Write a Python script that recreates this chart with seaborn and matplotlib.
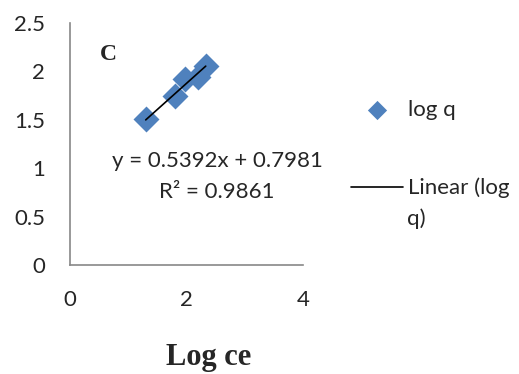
import numpy as np
import pandas as pd
import matplotlib
matplotlib.use("Agg")
import matplotlib.pyplot as plt
import seaborn as sns

log_ce = [1.30, 1.80, 1.97, 2.20, 2.33]
log_q = [1.51, 1.75, 1.92, 1.94, 2.06]
slope = 0.5392
intercept = 0.7981
x_ticks = [0, 2, 4]
y_ticks = [0, 0.5, 1, 1.5, 2, 2.5]
y_tick_labels = ["0", "0.5", "1", "1.5", "2", "2.5"]

sns.set_style("white")
plt.rcParams['font.family'] = ['Lato', 'DejaVu Sans']

FS = 16

fig = plt.figure(figsize=(5.19, 3.74), dpi=100)
ax = fig.add_axes([70/519, 1-265/374, 233/519, 242/374])

df = pd.DataFrame({"x": log_ce, "y": log_q})
fit_x = np.array([min(log_ce), max(log_ce)])
fit_df = pd.DataFrame({"x": fit_x, "y": slope * fit_x + intercept})

sns.scatterplot(data=df, x="x", y="y", marker="D", s=175, color="#4F81BD",
                edgecolor="#4F81BD", linewidth=0, ax=ax, label="log q", zorder=2)
sns.lineplot(data=fit_df, x="x", y="y", color="black", linewidth=1.2, ax=ax,
             label="Linear (log", zorder=3)

ax.set_xlim(0, 4)
ax.set_ylim(0, 2.5)
ax.set_xticks(x_ticks)
ax.set_yticks(y_ticks)
ax.set_xticklabels([str(v) for v in x_ticks])
ax.set_yticklabels(y_tick_labels)
ax.tick_params(axis="both", length=0, labelsize=FS)
ax.tick_params(axis="x", pad=18)
ax.tick_params(axis="y", pad=18)
for side in ["top", "right"]:
    ax.spines[side].set_visible(False)
for side in ["left", "bottom"]:
    ax.spines[side].set_color("#888888")
    ax.spines[side].set_linewidth(1.2)
ax.set_xlabel("")
ax.set_ylabel("")

fig.text(217/519, 1-161/374, "y = 0.5392x + 0.7981", ha="center", va="center", fontsize=FS)
fig.text(217/519, 1-192/374, "R² = 0.9861", ha="center", va="center", fontsize=FS)
fig.text(108/519, 1-54/374, "C", ha="center", va="center",
         fontsize=17, fontweight="bold", family="Liberation Serif")
fig.text(209/519, 1-358/374, "Log ce", ha="center", va="center", fontsize=22,
         fontweight="bold", family="Liberation Serif")

leg = ax.legend(loc="upper left", bbox_to_anchor=(351/519, 1-100/374),
                bbox_transform=fig.transFigure, frameon=False, fontsize=FS,
                labelspacing=2.6, handlelength=2.35, handletextpad=0.2,
                borderpad=0, borderaxespad=0, markerscale=0.74)
fig.text(407/519, 1-219/374, "q)", ha="left", va="center", fontsize=FS)

fig.savefig("out.png", dpi=100)
